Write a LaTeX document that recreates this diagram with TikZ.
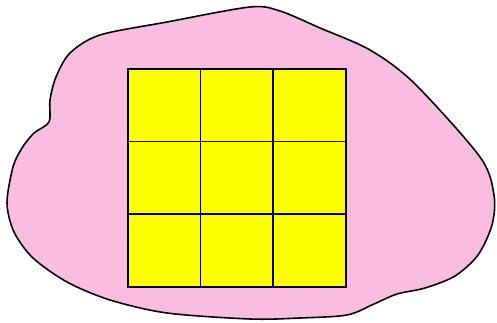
\documentclass[tikz,border=0pt]{standalone}
\usepackage{xcolor}
\usepackage{tikz}
\usetikzlibrary{positioning}
\definecolor{blobpink}{RGB}{249, 189, 223}
\definecolor{cellyellow}{RGB}{255, 255, 0}

\begin{document}
\begin{tikzpicture}[x=0.02cm, y=-0.02cm]
    \useasboundingbox (0,0) rectangle (497,323);

    % Pink region
    \draw[fill=blobpink, line width=0.9pt, smooth cycle, tension=0.5]
        plot coordinates {(250,7) (280,11) (320,28) (370,50) (414,83)
        (480,157) (494,195) (492,225) (478,255) (455,276) (425,288) (397,294)
        (374,304) (347,315) (300,318) (250,319) (167,313) (110,300) (67,282)
        (33,258) (14,232) (7,203) (13,167) (22,148) (34,133) (49,122) (50,100)
        (56,77) (70,53) (100,35) (167,22)};

    % 3x3 grid of cells
    \foreach \row in {0,1,2} {
        \foreach \col in {0,1,2} {
            \node[draw, fill=cellyellow, line width=0.9pt, minimum size=1.46cm, inner sep=0pt, anchor=north west]
                (cell-\row-\col) at (127+\col*72.7, 68+\row*72.7) {};
        }
    }

\end{tikzpicture}
\end{document}
